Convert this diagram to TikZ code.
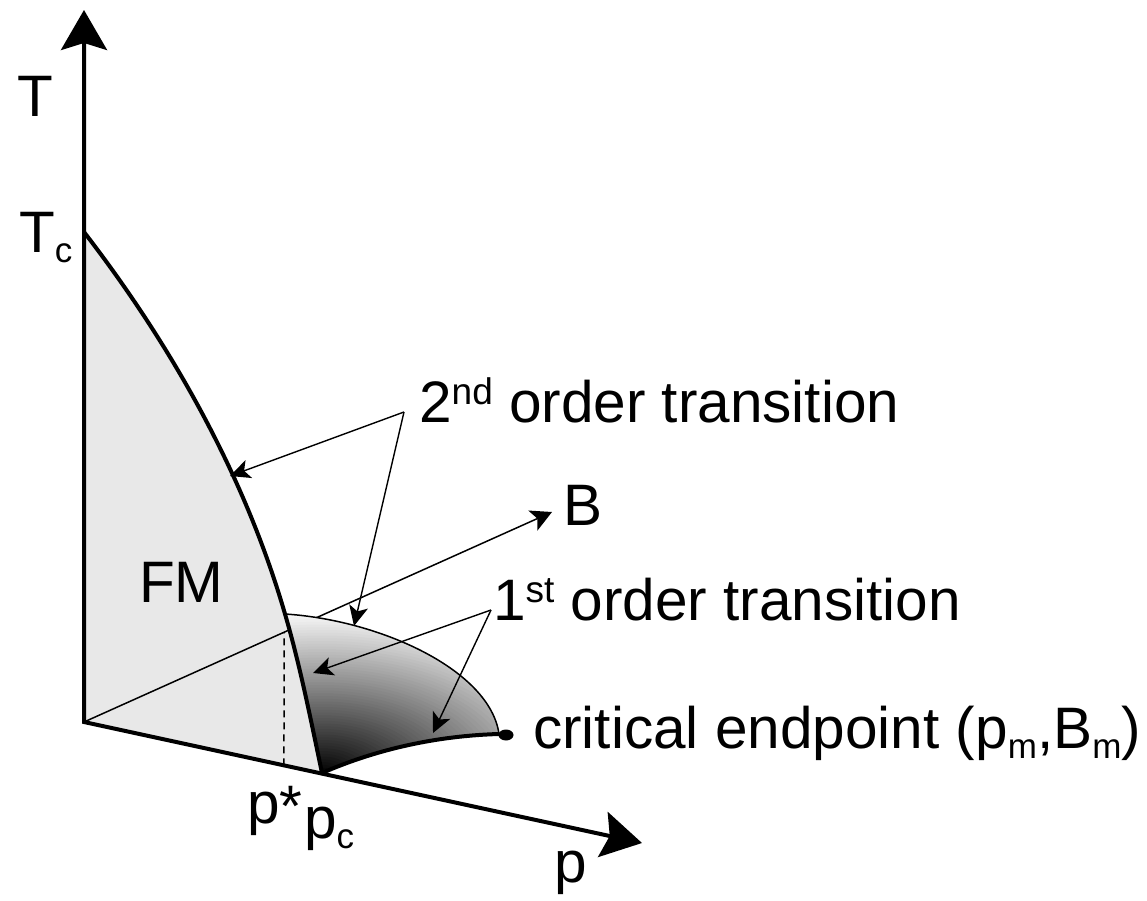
\documentclass[tikz,border=0pt]{standalone}
\usepackage{fontspec}
\setmainfont{Liberation Sans}
\usetikzlibrary{arrows.meta,calc}
\definecolor{fmgray}{RGB}{232,232,232}
\newcommand\supx[1]{\raisebox{18pt}{\fontsize{37}{37}\selectfont #1}}
\newcommand\subx[1]{\raisebox{-10pt}{\fontsize{35}{35}\selectfont #1}}
\begin{document}
\begin{tikzpicture}[x=1pt,y=-1pt,
  thick line/.style={line width=4pt},
  thin line/.style={line width=1.5pt},
  ann/.style={line width=1.4pt,-{Stealth[length=20pt,width=19pt,inset=5pt]}},
  lbl/.style={inner sep=0pt, anchor=base west, font=\fontsize{58.5}{70}\selectfont}]
\useasboundingbox (0,0) rectangle (1147,901);
\coordinate (O) at (84,722);
\coordinate (Ttip) at (84,10);
\coordinate (ptip) at (642,843);
\coordinate (Btip) at (552,512);
\coordinate (Tc) at (84,232);
\coordinate (C1) at (285,614);
\coordinate (pc) at (322,773);
\coordinate (E) at (499,734);
\coordinate (pstar) at ($(O)!0.3584!(ptip)$);
\coordinate (dtop) at ($(O)!0.4274!(Btip)$);
% FM region
\fill[fmgray] (O) -- (Tc) .. controls (172,346) and (245,476) .. (C1)
   .. controls (300,665) and (311,721) .. (pc) -- cycle;
% B axis
\draw[thin line, -{Stealth[length=21pt,width=22pt,inset=5pt]}] (O) -- (Btip);
% first-order surface
\begin{scope}
\clip (C1) .. controls (380,620) and (490,670) .. (E)
   .. controls (430,736) and (370,752) .. (pc)
   .. controls (311,721) and (300,665) .. (C1) -- cycle;
\fill[white] (150,550) rectangle (560,800);
\foreach \i [evaluate=\i as \pct using {min(100,100*\i/60)},
             evaluate=\i as \rx using {5*\i},
             evaluate=\i as \ry using {2.75*\i}] in {60,59,...,1}
  \fill[white!\pct!black] (pc) ellipse [x radius=\rx pt, y radius=\ry pt];
\end{scope}
\draw[thin line] (C1) .. controls (380,620) and (490,670) .. (E);
\draw[thick line] (pc) .. controls (370,752) and (430,736) .. (E);
\fill (506,735) ellipse [x radius=7.5pt, y radius=5.5pt];
% dashed
\draw[line width=1.5pt, dash pattern=on 7pt off 5pt] (pstar) -- (dtop);
% FM curve
\draw[thick line] (Tc) .. controls (172,346) and (245,476) .. (C1)
   .. controls (300,665) and (311,721) .. (pc);
% axes
\draw[thick line, line join=miter,
  {Stealth[length=40pt,width=46pt,inset=7pt]}-{Stealth[length=40pt,width=46pt,inset=7pt]}]
  (Ttip) -- (O) -- (ptip);
% annotation arrows
\coordinate (S2) at (404,412);
\coordinate (A2a) at (230,476);
\coordinate (A2b) at (354,626);
\coordinate (S1) at (491,610);
\coordinate (A1a) at (313,673);
\coordinate (A1b) at (433,733);
\draw[ann] (S2) -- (A2a);
\draw[ann] (S2) -- (A2b);
\draw[ann] (S1) -- (A1a);
\draw[ann] (S1) -- (A1b);
% labels
\node[lbl] (Tlab) at (17,117) {T};
\node[lbl] (Tclab) at (19,252) {T\subx{c}};
\node[lbl] (fm) at (139,602) {FM};
\node[lbl] (second) at (419,422) {2\supx{nd} order transition};
\node[lbl] (blab) at (563,525) {B};
\node[lbl] (first) at (493,620) {1\supx{st} order transition};
\node[lbl] (crit) at (533,748) {critical endpoint (p\subx{m},B\subx{m})};
\node[lbl] (plab) at (554,882) {p};
\node[lbl] (pstarlab) at (247,823) {p\raisebox{-3pt}{*}};
\node[lbl] (pclab) at (304,838) {p\subx{c}};
\end{tikzpicture}
\end{document}
